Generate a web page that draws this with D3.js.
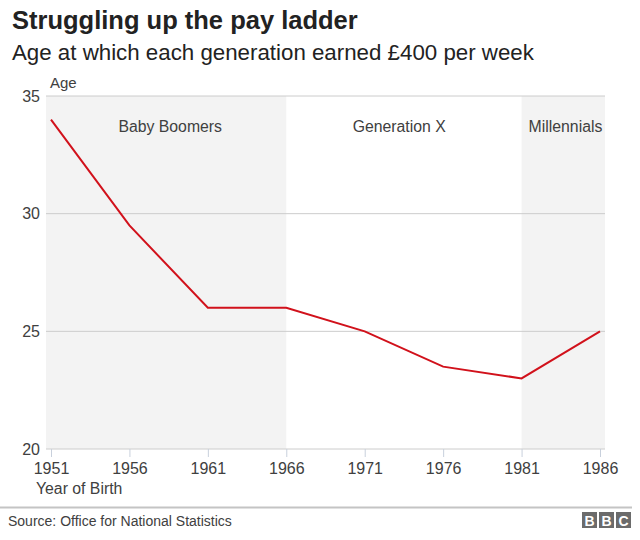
<!DOCTYPE html>
<html>
<head>
<meta charset="utf-8">
<script src="https://cdn.jsdelivr.net/npm/d3@7"></script>
<style>
  body { margin: 0; background: #fff; }
  svg { display: block; font-family: "Liberation Sans", Arial, Helvetica, sans-serif; }
</style>
</head>
<body>
<svg id="chart" width="640" height="540"></svg>
<script>
const years = [1951, 1956, 1961, 1966, 1971, 1976, 1981, 1986];
const ages = [34, 29.5, 26, 26, 25, 23.5, 23, 25];
const yTicks = [20, 25, 30, 35];
const generations = ["Baby Boomers", "Generation X", "Millennials"];
const genStart = [1951, 1966, 1981];
const genEnd = [1966, 1981, 1986];
const genLabelYear = [1958.6, 1973.2, 1983.8];
const genShaded = [true, false, true];

const svg = d3.select("#chart");
const x = d3.scaleLinear().domain([1951, 1986]).range([51, 600]);
const y = d3.scaleLinear().domain([20, 35]).range([449, 96]);
const plotLeft = 46, plotRight = 605;

// Title and subtitle
svg.append("text").attr("x", 12).attr("y", 29)
  .attr("font-size", 25.5).attr("font-weight", "bold").attr("fill", "#222")
  .text("Struggling up the pay ladder");
svg.append("text").attr("x", 12).attr("y", 60)
  .attr("font-size", 22.3).attr("fill", "#222")
  .text("Age at which each generation earned £400 per week");

// Shaded generation bands
generations.forEach((g, i) => {
  if (genShaded[i]) {
    const x0 = i === 0 ? plotLeft : x(genStart[i]);
    const x1 = i === generations.length - 1 ? plotRight : x(genEnd[i]);
    svg.append("rect").attr("x", x0).attr("y", y(35))
      .attr("width", x1 - x0).attr("height", y(20) - y(35))
      .attr("fill", "#f3f3f3");
  }
});

// Gridlines
svg.append("g").selectAll("line").data(yTicks).join("line")
  .attr("x1", plotLeft).attr("x2", plotRight)
  .attr("y1", d => y(d)).attr("y2", d => y(d))
  .attr("stroke", "#cccccc").attr("stroke-width", 1);

// Y tick labels
svg.append("g").selectAll("text").data(yTicks).join("text")
  .attr("x", 40).attr("y", d => y(d)).attr("dy", "0.35em")
  .attr("text-anchor", "end").attr("font-size", 16).attr("fill", "#404040")
  .text(d => d);

svg.append("text").attr("x", 50).attr("y", 88)
  .attr("font-size", 15).attr("fill", "#404040").text("Age");

// X axis
const xAxis = d3.axisBottom(x).tickValues(years).tickFormat(d3.format("d"))
  .tickSize(8).tickPadding(6);
const gx = svg.append("g").attr("transform", `translate(0,${y(20)})`).call(xAxis);
gx.select(".domain").remove();
gx.selectAll(".tick line").attr("stroke", "#c8d0dc");
gx.selectAll(".tick text").attr("font-size", 16).attr("fill", "#404040")
  .attr("font-family", "Liberation Sans, Arial, sans-serif");

svg.append("text").attr("x", 36).attr("y", 494)
  .attr("font-size", 15.8).attr("fill", "#404040").text("Year of Birth");

// Generation labels
svg.append("g").selectAll("text").data(generations).join("text")
  .attr("x", (d, i) => x(genLabelYear[i])).attr("y", 132)
  .attr("text-anchor", "middle").attr("font-size", 15.8).attr("fill", "#404040")
  .text(d => d);

// Line
const line = d3.line().x((d, i) => x(years[i])).y(d => y(d));
svg.append("path").datum(ages).attr("d", line)
  .attr("fill", "none").attr("stroke", "#d1111b").attr("stroke-width", 2)
  .attr("stroke-linejoin", "miter");

// Footer
svg.append("line").attr("x1", 0).attr("x2", 632).attr("y1", 507.5).attr("y2", 507.5)
  .attr("stroke", "#c4c4c4").attr("stroke-width", 2);
svg.append("text").attr("x", 8).attr("y", 526)
  .attr("font-size", 14).attr("fill", "#404040").text("Source: Office for National Statistics");

const bbc = ["B", "B", "C"];
const logo = svg.append("g");
bbc.forEach((c, i) => {
  const bx = 582 + i * 17;
  logo.append("rect").attr("x", bx).attr("y", 512).attr("width", 15).attr("height", 16)
    .attr("fill", "#6b6b6b");
  logo.append("text").attr("x", bx + 7.5).attr("y", 525.5).attr("text-anchor", "middle")
    .attr("font-size", 14).attr("font-weight", "bold").attr("fill", "#fff").text(c);
});
</script>
</body>
</html>
